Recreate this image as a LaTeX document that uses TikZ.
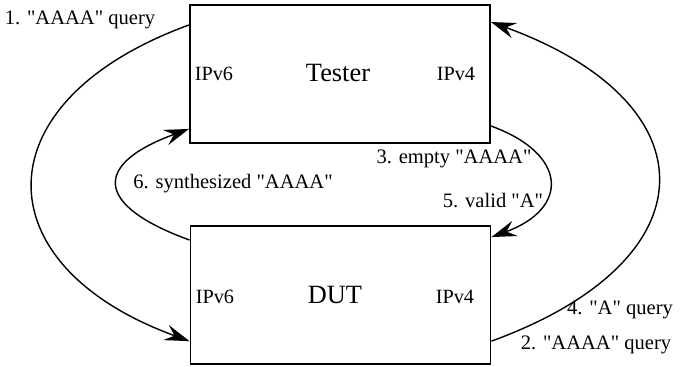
\documentclass[tikz,border=0pt]{standalone}
\usepackage{fontspec}
\setmainfont{Liberation Serif}[Ligatures=TeXOff]
\usetikzlibrary{arrows.meta}

\tikzset{
  box/.style={draw, line width=1.1pt, minimum width=6cm, minimum height=2.76cm, inner sep=0pt},
  msg/.style={line width=0.8pt, -{Stealth[length=5mm, width=3.2mm, inset=1.8mm]}},
  lbl/.style={font=\fontsize{11.7}{13}\selectfont, inner sep=0pt},
  port/.style={font=\fontsize{11.5}{13}\selectfont, inner sep=0pt}
}

\begin{document}
\begin{tikzpicture}[x=0.02cm, y=-0.02cm]
        \useasboundingbox (0, 0) rectangle (681, 367);
        % node
        \node[box] (tester) at (340, 74) {};
        \node[box] (dut) at (340.5, 295) {};
        \node[font=\fontsize{15}{17}\selectfont] (testername) at (338, 73) {Tester};
        \node[font=\fontsize{15}{17}\selectfont] (dutname) at (335, 295) {DUT};
        \node[port] (tv6) at (214, 74) {IPv6};
        \node[port] (tv4) at (456, 74) {IPv4};
        \node[port] (dv6) at (215, 297) {IPv6};
        \node[port] (dv4) at (455, 297) {IPv4};
        % lines
        \draw[msg] (tester.162) to[out=200, in=160, looseness=1.8] (dut.197);
        \draw[msg] (dut.-17) to[out=20, in=-20, looseness=1.9] (tester.19);
        \draw[msg] (tester.-19) to[out=-20, in=20, looseness=1.9] (dut.21);
        \draw[msg] (dut.160) to[out=160, in=200, looseness=2.35] (tester.200);
        % labels
        \node[lbl] (q1) at (80, 20) {1. "AAAA" query};
        \node[lbl] (q2) at (596, 345) {2. "AAAA" query};
        \node[lbl] (r3) at (454, 159) {3. empty "AAAA"};
        \node[lbl] (q4) at (620, 310) {4. "A" query};
        \node[lbl] (r5) at (493, 201) {5. valid "A"};
        \node[lbl] (r6) at (233, 184) {6. synthesized "AAAA"};
      \end{tikzpicture}
\end{document}
